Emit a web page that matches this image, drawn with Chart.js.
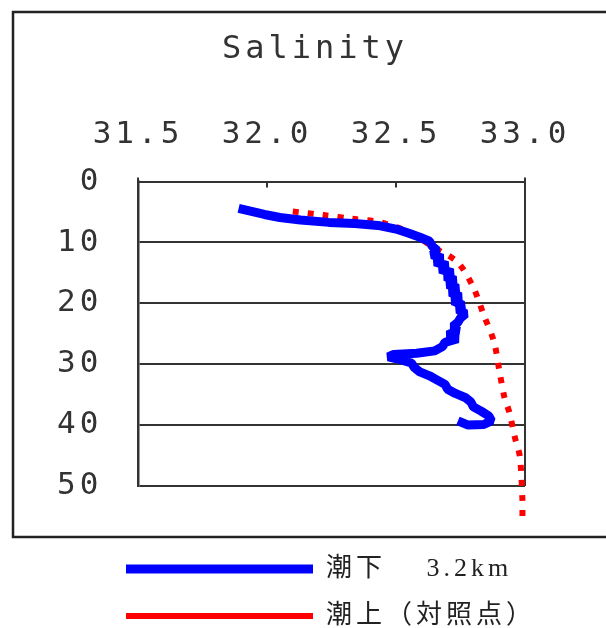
<!DOCTYPE html>
<html lang="ja">
<head>
<meta charset="UTF-8">
<title>Salinity</title>
<script src="https://cdn.jsdelivr.net/npm/chart.js"></script>
<style>
  body { margin: 0; background: #fff; }
  #chart { display: block; }
</style>
</head>
<body>
<canvas id="chart" width="606" height="628"></canvas>
<script>
const xTicks = [31.5, 32.0, 32.5, 33.0];
const yTicks = [0, 10, 20, 30, 40, 50];
const seriesNames = ['潮下\u3000 3.2km', '潮上（対照点）'];

// 潮下 3.2km (blue, jagged profile)
const downSalinity = [31.89, 31.94, 31.99, 32.05, 32.13, 32.24, 32.34, 32.43, 32.50, 32.55,
  32.59, 32.63, 32.64, 32.66, 32.64, 32.68, 32.65, 32.70, 32.67, 32.72,
  32.69, 32.73, 32.70, 32.74, 32.71, 32.75, 32.72, 32.76, 32.74, 32.77,
  32.75, 32.74, 32.72, 32.74, 32.70, 32.74, 32.69, 32.68, 32.65, 32.58,
  32.49, 32.47, 32.52, 32.56, 32.57, 32.59, 32.63, 32.66, 32.69, 32.70,
  32.73, 32.77, 32.79, 32.80, 32.83, 32.86, 32.87, 32.84, 32.78, 32.74];
const downDepth = [4.4, 4.9, 5.4, 5.9, 6.3, 6.7, 6.9, 7.2, 7.8, 8.5,
  9.1, 9.8, 10.6, 11.3, 12.0, 12.6, 13.2, 13.8, 14.4, 15.0,
  15.6, 16.2, 16.9, 17.5, 18.2, 18.9, 19.6, 20.3, 21.0, 21.7,
  22.4, 23.1, 23.8, 24.5, 25.2, 25.8, 26.4, 27.1, 27.8, 28.2,
  28.4, 28.8, 29.3, 29.8, 30.5, 31.2, 31.9, 32.6, 33.3, 34.1,
  34.8, 35.5, 36.2, 37.0, 37.7, 38.5, 39.3, 39.9, 40.0, 39.3];

// 潮上（対照点） (red, dotted)
const upSalinity = [32.10, 32.22, 32.33, 32.44, 32.55, 32.65, 32.74, 32.80, 32.84,
  32.88, 32.90, 32.92, 32.94, 32.96, 32.98, 32.99, 32.99];
const upDepth = [4.9, 5.5, 6.1, 6.7, 8.3, 10.9, 13.3, 17.4, 21.9,
  26.3, 30.9, 35.4, 38.0, 41.9, 45.2, 52.3, 55.1];

const toPoints = (xs, ys) => xs.map((v, i) => ({ x: v, y: ys[i] }));

const tickFont = { family: "'DejaVu Sans Mono', monospace", size: 31 };

// frame, right edge of the plot and the inward ticks of the top axis
const frame = {
  id: 'frame',
  afterInit(c) { c.ctx.letterSpacing = '4px'; },
  beforeUpdate(c) { c.ctx.letterSpacing = '4px'; },
  beforeDraw(c) {
    const ctx = c.ctx;
    ctx.letterSpacing = '4px';
    ctx.save();
    ctx.strokeStyle = '#222';
    ctx.lineWidth = 2.5;
    ctx.strokeRect(13, 12, c.width + 20, 525);
    ctx.restore();
  },
  beforeDatasetsDraw(c) {
    const { ctx, chartArea: a } = c;
    const x = c.scales.x;
    ctx.save();
    ctx.strokeStyle = '#333';
    ctx.lineWidth = 2;
    ctx.beginPath();
    ctx.moveTo(a.right, a.top - 4);
    ctx.lineTo(a.right, a.bottom);
    ctx.moveTo(a.left, a.top - 4);
    ctx.lineTo(a.left, a.top);
    x.ticks.forEach(t => {
      const px = x.getPixelForValue(t.value);
      if (px > a.left + 2 && px < a.right - 2) {
        ctx.moveTo(px, a.top);
        ctx.lineTo(px, a.top + 6);
      }
    });
    ctx.stroke();
    ctx.restore();
  }
};

new Chart(document.getElementById('chart'), {
  type: 'scatter',
  data: {
    datasets: [{
      label: seriesNames[0],
      data: toPoints(downSalinity, downDepth),
      showLine: true,
      borderColor: '#0000ff',
      backgroundColor: '#0000ff',
      borderWidth: 9,
      borderJoinStyle: 'bevel',
      pointRadius: 0,
      tension: 0
    }, {
      label: seriesNames[1],
      data: toPoints(upSalinity, upDepth),
      showLine: true,
      borderColor: '#ff0000',
      backgroundColor: '#ff0000',
      borderWidth: 6,
      borderDash: [6, 9],
      borderCapStyle: 'butt',
      pointRadius: 0,
      tension: 0.3,
      clip: false
    }]
  },
  options: {
    responsive: false,
    animation: false,
    layout: { padding: { left: 105, right: 81, top: 0, bottom: 0 } },
    scales: {
      x: {
        type: 'linear',
        position: 'top',
        min: xTicks[0],
        max: xTicks[xTicks.length - 1],
        ticks: {
          stepSize: xTicks[1] - xTicks[0],
          padding: 28,
          maxRotation: 0,
          color: '#333',
          font: tickFont,
          callback: v => v.toFixed(1)
        },
        grid: { display: false, drawTicks: false },
        border: { display: true, color: '#333', width: 2 }
      },
      y: {
        type: 'linear',
        reverse: true,
        min: yTicks[0],
        max: yTicks[yTicks.length - 1],
        ticks: {
          stepSize: yTicks[1] - yTicks[0],
          mirror: true,
          crossAlign: 'far',
          padding: -81,
          color: '#333',
          font: tickFont
        },
        grid: { color: '#333', lineWidth: 2, drawTicks: false },
        border: { display: true, color: '#333', width: 2.5 },
        afterFit(s) { s.width = 33; }
      },
      gap: {
        type: 'linear',
        position: 'bottom',
        ticks: { display: false },
        grid: { display: false, drawTicks: false },
        border: { display: false },
        afterFit(s) { s.height = 49; }
      }
    },
    plugins: {
      title: {
        display: true,
        text: 'Salinity',
        color: '#333',
        font: { family: "'DejaVu Sans Mono', monospace", size: 32, weight: 'normal' },
        padding: { top: 30, bottom: 20 }
      },
      legend: {
        position: 'bottom',
        align: 'start',
        maxHeight: 93,
        labels: {
          usePointStyle: true,
          pointStyle: 'line',
          pointStyleWidth: 187,
          padding: 21,
          color: '#222',
          font: { family: "'Liberation Serif', 'Noto Sans CJK JP', serif", size: 26 }
        }
      },
      tooltip: { enabled: false }
    }
  },
  plugins: [frame]
});
</script>
</body>
</html>
